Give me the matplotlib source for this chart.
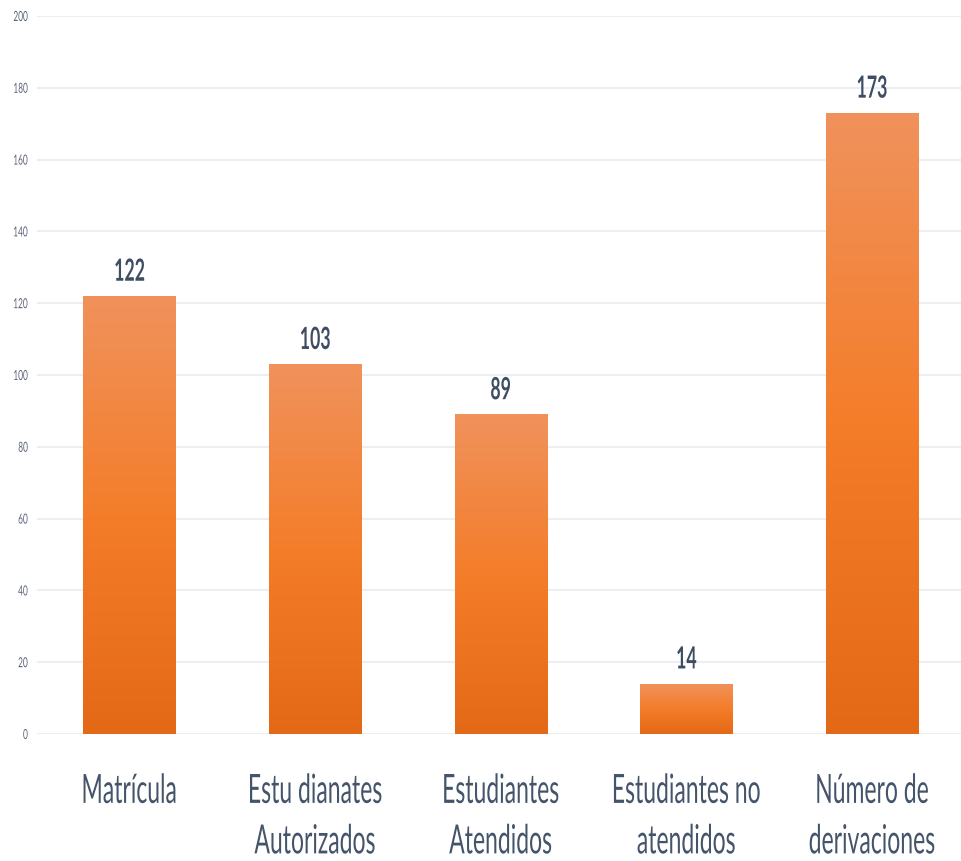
import matplotlib
matplotlib.use("Agg")
import matplotlib.pyplot as plt
import numpy as np
from matplotlib.colors import LinearSegmentedColormap
from matplotlib.patheffects import AbstractPathEffect
from matplotlib.transforms import Affine2D

categories = ["Matrícula", "Estu dianates\nAutorizados", "Estudiantes\nAtendidos",
              "Estudiantes no\natendidos", "Número de\nderivaciones"]
values = [122, 103, 89, 14, 173]
yticks = [0, 20, 40, 60, 80, 100, 120, 140, 160, 180, 200]


class Squeeze(AbstractPathEffect):
    """Horizontally condense text (the reference uses a condensed face)."""
    def __init__(self, sx, anchor="center"):
        super().__init__()
        self.sx = sx
        self.anchor = anchor

    def draw_path(self, renderer, gc, tpath, affine, rgbFace=None):
        verts = affine.transform(tpath.vertices)
        if len(verts) == 0:
            return
        xmin, xmax = verts[:, 0].min(), verts[:, 0].max()
        cx = xmax if self.anchor == "right" else 0.5 * (xmin + xmax)
        new = affine + Affine2D().translate(-cx, 0).scale(self.sx, 1).translate(cx, 0)
        renderer.draw_path(gc, tpath, new, rgbFace)


FONT = "Lato"
text_color = "#44546A"
fig = plt.figure(figsize=(9.61, 8.61), dpi=100)
ax = fig.add_axes([37/961, 127/861, 928/961, 718/861])

x = np.arange(len(categories))
bars = ax.bar(x, values, width=0.5, color="#F47D2A", edgecolor="none", zorder=2)

cmap = LinearSegmentedColormap.from_list("g", ["#E46916", "#F47D2A", "#F0925C"])
grad = np.linspace(0, 1, 256).reshape(-1, 1)
for b in bars:
    x0, y0 = b.get_x(), b.get_y()
    w, h = b.get_width(), b.get_height()
    im = ax.imshow(grad, extent=[x0, x0 + w, y0, y0 + h], origin="lower",
                   cmap=cmap, aspect="auto", zorder=3)
    im.set_clip_path(b)

for xi, v in zip(x, values):
    t = ax.annotate(str(v), (xi, v), xytext=(0, 11), textcoords="offset points",
                    ha="center", va="baseline", fontsize=22, fontweight="bold",
                    color="#3F4D63", family=FONT)
    t.set_path_effects([Squeeze(0.58)])

ax.set_xlim(-0.5, len(categories) - 0.5)
ax.set_ylim(0, 200)
ax.set_yticks(yticks)
ax.set_yticklabels([str(t) for t in yticks], fontsize=10, color="#5A6478", family=FONT)
ax.set_xticks(x)
ax.set_xticklabels(categories, fontsize=29, color=text_color, family=FONT, linespacing=1.45)
for lab in ax.get_yticklabels():
    lab.set_path_effects([Squeeze(0.6, anchor="right")])
for lab in ax.get_xticklabels():
    lab.set_path_effects([Squeeze(0.57)])
ax.tick_params(axis="both", length=0)
ax.tick_params(axis="x", pad=28)
ax.tick_params(axis="y", pad=6.5)
ax.grid(axis="y", color="#ECEEF1", linewidth=1.5, zorder=0)
ax.set_axisbelow(True)
for s in ax.spines.values():
    s.set_visible(False)

fig.savefig("out.png", dpi=100)
